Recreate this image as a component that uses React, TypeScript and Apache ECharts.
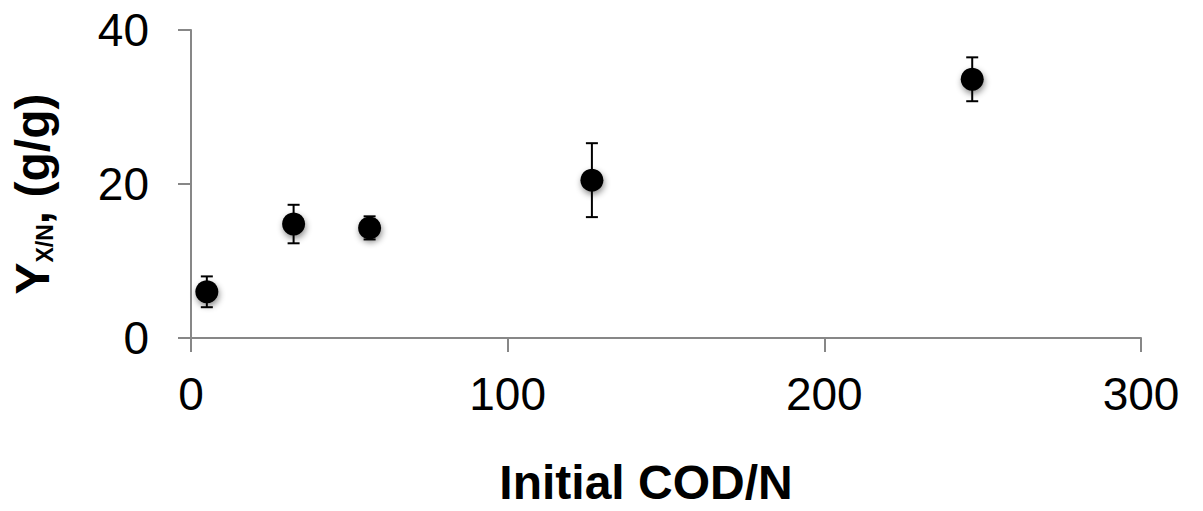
import React, { useEffect, useRef } from "react";
import * as echarts from "echarts";

const codN = [5, 32.4, 56.4, 126.6, 246.7];
const yieldXN = [6.0, 14.8, 14.3, 20.5, 33.6];
const errXN = [2.0, 2.5, 1.5, 4.8, 2.85];
const xTicks = [0, 100, 200, 300];
const yTicks = [0, 20, 40];

const FONT = "'Liberation Sans', Arial, sans-serif";

export default function App() {
  const ref = useRef<HTMLDivElement>(null);
  useEffect(() => {
    if (!ref.current) return;
    const chart = echarts.init(ref.current, undefined, { renderer: "svg" });
    const points = codN.map((x, i) => [x, yieldXN[i]]);
    const errs = codN.map((x, i) => [x, yieldXN[i] - errXN[i], yieldXN[i] + errXN[i]]);
    chart.setOption({
      animation: false,
      grid: { left: 184, right: 62, top: 30, bottom: 165, containLabel: false },
      xAxis: {
        type: "value",
        min: xTicks[0],
        max: xTicks[xTicks.length - 1],
        interval: 100,
        name: "Initial COD/N",
        nameLocation: "middle",
        nameGap: 120,
        nameTextStyle: {
          fontFamily: FONT,
          fontSize: 48,
          fontWeight: "bold",
          color: "#000",
          padding: [0, 40, 0, 0],
        },
        axisLine: { show: true, lineStyle: { color: "#878787", width: 2 } },
        axisTick: { show: true, length: 14, inside: false, lineStyle: { color: "#878787", width: 2 } },
        axisLabel: { fontFamily: FONT, fontSize: 46, color: "#000", margin: 33 },
        splitLine: { show: false },
      },
      yAxis: {
        type: "value",
        min: yTicks[0],
        max: yTicks[yTicks.length - 1],
        interval: 20,
        name: "{main|Y}{sub|X/N}{main|, (g/g)}",
        nameLocation: "middle",
        nameRotate: 90,
        nameGap: 135,
        nameTextStyle: {
          padding: [0, 20, 0, 0],
          rich: {
            main: { fontFamily: FONT, fontSize: 48, fontWeight: "bold", color: "#000", verticalAlign: "bottom", lineHeight: 52 },
            sub: { fontFamily: FONT, fontSize: 23, fontWeight: "bold", color: "#000", verticalAlign: "bottom", lineHeight: 32 },
          },
        },
        axisLine: { show: true, lineStyle: { color: "#878787", width: 2 } },
        axisTick: { show: true, length: 13, lineStyle: { color: "#878787", width: 2 } },
        axisLabel: { fontFamily: FONT, fontSize: 46, color: "#000", margin: 42 },
        splitLine: { show: false },
      },
      series: [
        {
          type: "custom",
          data: errs,
          z: 2,
          renderItem: (params: any, api: any) => {
            const x = api.value(0);
            const lo = api.coord([x, api.value(1)]);
            const hi = api.coord([x, api.value(2)]);
            const cap = 6;
            const style = { stroke: "#000", lineWidth: 2 };
            return {
              type: "group",
              children: [
                { type: "line", shape: { x1: lo[0], y1: lo[1], x2: hi[0], y2: hi[1] }, style },
                { type: "line", shape: { x1: lo[0] - cap, y1: lo[1], x2: lo[0] + cap, y2: lo[1] }, style },
                { type: "line", shape: { x1: hi[0] - cap, y1: hi[1], x2: hi[0] + cap, y2: hi[1] }, style },
              ],
            };
          },
        },
        {
          type: "scatter",
          data: points,
          z: 3,
          symbol: "circle",
          symbolSize: 23,
          itemStyle: {
            color: "#000",
            opacity: 1,
            shadowBlur: 6,
            shadowColor: "rgba(0,0,0,0.45)",
            shadowOffsetX: 1,
            shadowOffsetY: 3,
          },
        },
      ],
    });
    return () => chart.dispose();
  }, []);
  return <div ref={ref} style={{ width: 1203, height: 511, position: "absolute", left: 0, top: 0 }} />;
}
